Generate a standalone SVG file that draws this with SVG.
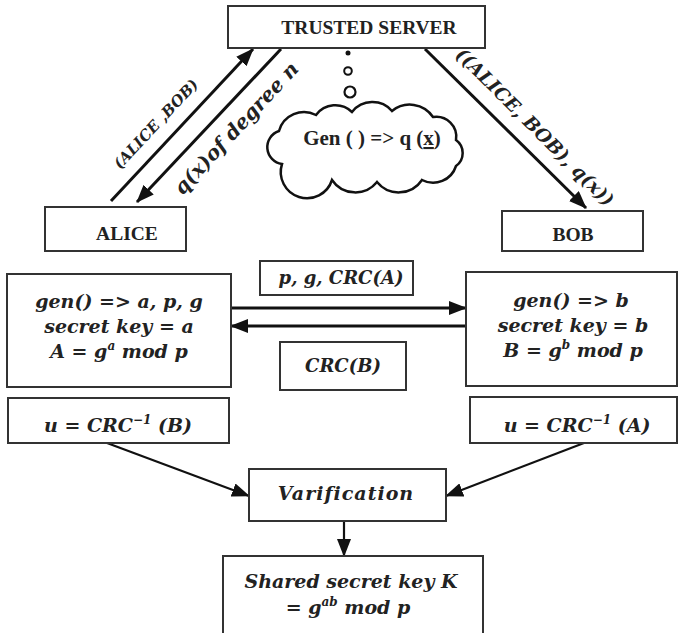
<svg xmlns="http://www.w3.org/2000/svg" width="678" height="633" viewBox="0 0 678 633">
<defs>
<marker id="ah" markerUnits="userSpaceOnUse" markerWidth="18" markerHeight="14" viewBox="0 0 18 14" refX="17" refY="7" orient="auto">
<path d="M0,0 L18,7 L0,14 z" fill="#111"/>
</marker>
<style>
.box{fill:#fff;stroke:#333;stroke-width:2}
.ln{stroke:#111;stroke-width:3;fill:none}
.thin{stroke:#111;stroke-width:2.2;fill:none}
.nm{font-family:"Liberation Serif","Times New Roman",serif;font-weight:bold;fill:#222;text-anchor:middle}
.mt{font-family:"DejaVu Serif","Liberation Serif",serif;font-weight:bold;font-style:italic;fill:#222;text-anchor:middle}
</style>
</defs>
<rect width="678" height="633" fill="#fff"/>

<g id="connectors">
<line class="ln" x1="111" y1="201" x2="253" y2="49" marker-end="url(#ah)"/>
<line class="ln" x1="281" y1="49" x2="137" y2="202" marker-end="url(#ah)"/>
<line class="ln" x1="425" y1="49" x2="586" y2="208" marker-end="url(#ah)"/>
<line class="ln" x1="231" y1="308" x2="466" y2="308" marker-end="url(#ah)"/>
<line class="ln" x1="466" y1="326" x2="231" y2="326" marker-end="url(#ah)"/>
<line class="thin" x1="107" y1="443" x2="249" y2="496" marker-end="url(#ah)"/>
<line class="thin" x1="584" y1="443" x2="446" y2="496" marker-end="url(#ah)"/>
<line class="thin" x1="344" y1="521" x2="344" y2="556" marker-end="url(#ah)"/>
<text class="mt" font-size="15" dominant-baseline="central" transform="translate(156,124) rotate(-47)">(ALICE ,BOB)</text>
<text class="mt" font-size="20" dominant-baseline="central" transform="translate(236,128) rotate(-47)">q(x)of degree n</text>
<text class="mt" font-size="18.5" dominant-baseline="central" transform="translate(535,127) rotate(45)">((ALICE, BOB), q(x))</text>
</g>

<g id="server">
<rect class="box" x="228" y="6" width="257" height="42"/>
<text class="nm" x="369" y="34" font-size="19.5">TRUSTED SERVER</text>
</g>

<g id="thought">
<circle cx="348" cy="53" r="2.5" fill="#111"/>
<circle cx="348" cy="71" r="3.8" fill="#fff" stroke="#111" stroke-width="2"/>
<circle cx="350" cy="92" r="5.5" fill="#fff" stroke="#111" stroke-width="2.2"/>
</g>

<g id="cloud">
<path d="M282 164 A17 17 0 0 1 279 131 A26 26 0 0 1 316 115 A24 24 0 0 1 352 112 A26 26 0 0 1 392 111 A28 28 0 0 1 433 117 A20 20 0 0 1 456 140 A16 16 0 0 1 456 166 A24 24 0 0 1 422 180 A28 28 0 0 1 377 182 A28 28 0 0 1 332 180 A26 26 0 0 1 282 164 Z" fill="#fff" stroke="#111" stroke-width="2.5"/>
<text class="nm" x="372" y="145" font-size="21">Gen ( ) =&gt; q (<tspan text-decoration="underline">x</tspan>)</text>
</g>

<g id="alice">
<rect class="box" x="45" y="207" width="141" height="44"/>
<text class="nm" x="127" y="240" font-size="19.5">ALICE</text>
</g>

<g id="bob">
<rect class="box" x="502" y="211" width="141" height="40"/>
<text class="nm" x="573" y="241" font-size="19.5">BOB</text>
</g>

<g id="alice-gen">
<rect class="box" x="7" y="274" width="224" height="113"/>
<text class="mt" x="119" y="308" font-size="19">gen() =&gt; a, p, g</text>
<text class="mt" x="119" y="333" font-size="19">secret key = a</text>
<text class="mt" x="119" y="358" font-size="19">A = g<tspan font-size="12" dy="-8">a</tspan><tspan dy="8"> mod p</tspan></text>
</g>

<g id="bob-gen">
<rect class="box" x="466" y="272" width="211" height="114"/>
<text class="mt" x="571" y="307" font-size="19">gen() =&gt; b</text>
<text class="mt" x="573" y="332" font-size="19">secret key = b</text>
<text class="mt" x="573" y="357" font-size="19">B = g<tspan font-size="12" dy="-8">b</tspan><tspan dy="8"> mod p</tspan></text>
</g>

<g id="msg-a">
<rect class="box" x="260" y="261" width="153" height="34"/>
<text class="mt" x="341" y="284" font-size="18">p, g, CRC(A)</text>
</g>

<g id="msg-b">
<rect class="box" x="280" y="342" width="126" height="48"/>
<text class="mt" x="343" y="372" font-size="18">CRC(B)</text>
</g>

<g id="u-alice">
<rect class="box" x="8" y="398" width="221" height="45"/>
<text class="mt" x="118" y="432" font-size="19">u = CRC<tspan font-size="12" dy="-8">−1</tspan><tspan dy="8"> (B)</tspan></text>
</g>

<g id="u-bob">
<rect class="box" x="470" y="397" width="207" height="46"/>
<text class="mt" x="577" y="432" font-size="19">u  = CRC<tspan font-size="12" dy="-8">−1</tspan><tspan dy="8"> (A)</tspan></text>
</g>

<g id="verify">
<rect class="box" x="249" y="469" width="197" height="52"/>
<text class="mt" x="346" y="500" font-size="19" letter-spacing="1">Varification</text>
</g>

<g id="shared">
<rect class="box" x="223" y="556" width="260" height="80"/>
<text class="mt" x="351" y="588" font-size="19">Shared secret key K</text>
<text class="mt" x="348" y="614" font-size="19">= g<tspan font-size="12" dy="-8">ab</tspan><tspan dy="8"> mod p</tspan></text>
</g>
</svg>
